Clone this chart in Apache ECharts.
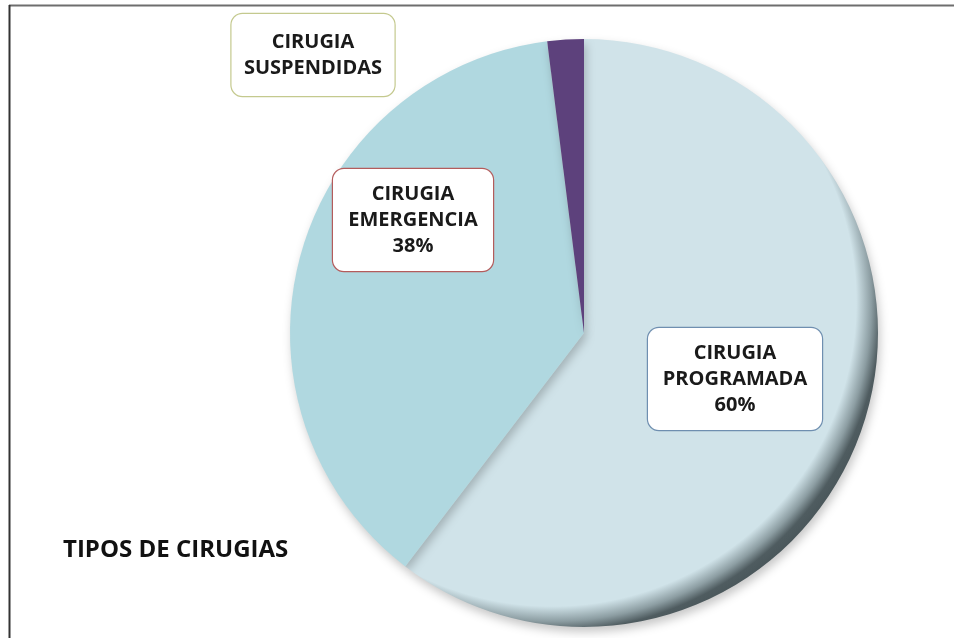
<!DOCTYPE html>
<html>
<head>
<meta charset="utf-8">
<script src="https://cdn.jsdelivr.net/npm/echarts@6/dist/echarts.min.js"></script>
<style>
  html, body { margin: 0; padding: 0; background: #fff; }
  #pie { width: 954px; height: 638px; }
</style>
</head>
<body>
<div id="pie"></div>
<script>
// datos del grafico
var categorias = ['CIRUGIA\nPROGRAMADA', 'CIRUGIA\nEMERGENCIA', 'CIRUGIA\nSUSPENDIDAS'];
var valores = [60.4, 37.6, 2.0];
var mostrarPorcentaje = [true, true, false];

// estilos de cada porcion / etiqueta
var colores = ['#d0e3e9', '#b0d8e0', '#5d417c'];
var coloresBorde = ['#6f8fb0', '#b45c5c', '#c4c98e'];
var posEtiqueta = [[735, 379], [413, 220], [313, 55]];
var anchoEtiqueta = [150, 136, 147];

var myChartPie = echarts.init(document.getElementById('pie'), null, { renderer: 'canvas' });

function degradado(c) {
  return {
    type: 'radial', x: 552, y: 302, r: 338, global: true,
    colorStops: [
      { offset: 0, color: c },
      { offset: 0.9, color: c },
      { offset: 0.945, color: '#8c9da2' },
      { offset: 0.975, color: '#4f5c60' },
      { offset: 1, color: '#4a575b' }
    ]
  };
}

var datos = categorias.map(function (nombre, i) {
  return {
    name: nombre,
    value: valores[i],
    itemStyle: { color: degradado(colores[i]) },
    label: {
      formatter: mostrarPorcentaje[i] ? '{b}\n{d}%' : '{b}',
      borderColor: coloresBorde[i],
      width: anchoEtiqueta[i],
      overflow: 'none',
      padding: mostrarPorcentaje[i] ? [12, 12] : [15, 8]
    }
  };
});

var option = {
  animation: false,
  title: {
    text: 'TIPOS DE CIRUGIAS',
    left: 58,
    top: 533,
    textStyle: { fontFamily: 'Open Sans', fontWeight: 'bold', fontSize: 24, color: '#111' }
  },
  graphic: [
    { type: 'line', shape: { x1: 9, y1: 5.5, x2: 954, y2: 5.5 }, style: { stroke: '#6e6e6e', lineWidth: 2 } },
    { type: 'line', shape: { x1: 9.5, y1: 5, x2: 9.5, y2: 638 }, style: { stroke: '#333', lineWidth: 2 } }
  ],
  series: [
    {
      type: 'pie',
      center: [584, 333],
      radius: [0, 294],
      startAngle: 90,
      clockwise: true,
      percentPrecision: 0,
      itemStyle: {
        borderWidth: 0,
        shadowColor: 'rgba(0,0,0,0.22)',
        shadowBlur: 10,
        shadowOffsetX: 2,
        shadowOffsetY: 5
      },
      label: {
        show: true,
        position: 'inside',
        fontFamily: 'Open Sans',
        fontWeight: 'bold',
        fontSize: 20,
        lineHeight: 26,
        color: '#1a1a1a',
        align: 'center',
        backgroundColor: '#ffffff',
        borderWidth: 1.2,
        borderRadius: 11
      },
      labelLine: { show: false },
      labelLayout: function (params) {
        var p = posEtiqueta[params.dataIndex];
        return { x: p[0], y: p[1], align: 'center', verticalAlign: 'middle' };
      },
      emphasis: { disabled: true },
      data: datos
    }
  ]
};

myChartPie.setOption(option);
</script>
</body>
</html>
